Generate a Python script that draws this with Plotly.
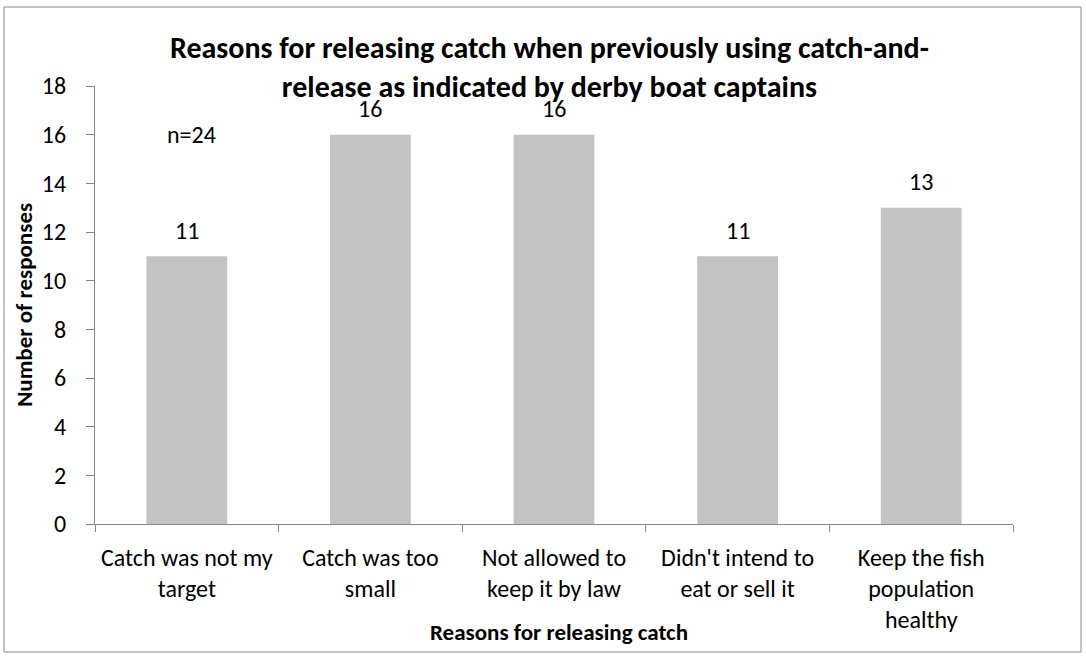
import plotly.graph_objects as go

categories = [
    "Catch was not my<br>target",
    "Catch was too<br>small",
    "Not allowed to<br>keep it by law",
    "Didn't intend to<br>eat or sell it",
    "Keep the fish<br>population<br>healthy",
]
responses = [11, 16, 16, 11, 13]
y_ticks = [0, 2, 4, 6, 8, 10, 12, 14, 16, 18]

title_text = "Reasons for releasing catch when previously using catch-and-<br>release as indicated by derby boat captains"
x_title = "Reasons for releasing catch"
y_title = "Number of responses"
n_note = "n=24"

FONT = "Calibri, Carlito, Lato, sans-serif"
AXIS_COLOR = "#868686"
TXT = 24

fig = go.Figure()
fig.add_trace(go.Bar(
    x=categories,
    y=responses,
    marker=dict(color="#c3c3c3", line=dict(width=0)),
    showlegend=False,
    hoverinfo="x+y",
))

annotations = []
for c, v in zip(categories, responses):
    annotations.append(dict(
        x=c, y=v, xref="x", yref="y", text=str(v), showarrow=False,
        yanchor="middle", yshift=26,
        font=dict(family=FONT, size=TXT, color="#000000"),
    ))

annotations.append(dict(
    x=categories[0], y=16, xref="x", yref="y", text=n_note, showarrow=False,
    yanchor="middle", xshift=5,
    font=dict(family=FONT, size=TXT, color="#000000"),
))

annotations.append(dict(
    x=0.495, y=1.0445, xref="paper", yref="paper", text="<b>" + title_text + "</b>",
    showarrow=False, xanchor="center", yanchor="middle",
    font=dict(family=FONT, size=30, color="#000000"),
))
annotations.append(dict(
    x=0.505, y=-0.2466, xref="paper", yref="paper", text="<b>" + x_title + "</b>",
    showarrow=False, xanchor="center", yanchor="middle",
    font=dict(family=FONT, size=23, color="#000000"),
))
annotations.append(dict(
    x=-0.0775, y=0.5, xref="paper", yref="paper", text="<b>" + y_title + "</b>",
    showarrow=False, xanchor="center", yanchor="middle", textangle=-90,
    font=dict(family=FONT, size=23, color="#000000"),
))

fig.update_layout(
    width=1086,
    height=660,
    margin=dict(l=95, r=73, t=86, b=136),
    paper_bgcolor="#ffffff",
    plot_bgcolor="#ffffff",
    bargap=0.56,
    annotations=annotations,
    shapes=[dict(
        type="rect", xref="paper", yref="paper",
        x0=-0.0991, x1=1.0741, y0=-0.2922, y1=1.1804,
        line=dict(color=AXIS_COLOR, width=1), fillcolor="rgba(0,0,0,0)",
        layer="below",
    )],
    font=dict(family=FONT, size=TXT, color="#000000"),
)

fig.update_xaxes(
    type="category",
    showline=True, linecolor=AXIS_COLOR, linewidth=1,
    ticks="outside", tickson="boundaries", ticklen=7, tickcolor=AXIS_COLOR,
    showgrid=False, zeroline=False,
    tickfont=dict(family=FONT, size=TXT, color="#000000"),
    ticklabelstandoff=12,
)
fig.update_yaxes(
    range=[0, 18],
    tickvals=y_ticks,
    showline=True, linecolor=AXIS_COLOR, linewidth=1,
    ticks="outside", ticklen=8, tickcolor=AXIS_COLOR,
    showgrid=False, zeroline=False,
    tickfont=dict(family=FONT, size=TXT, color="#000000"),
    ticklabelstandoff=15,
)

fig.write_html("out.html")
